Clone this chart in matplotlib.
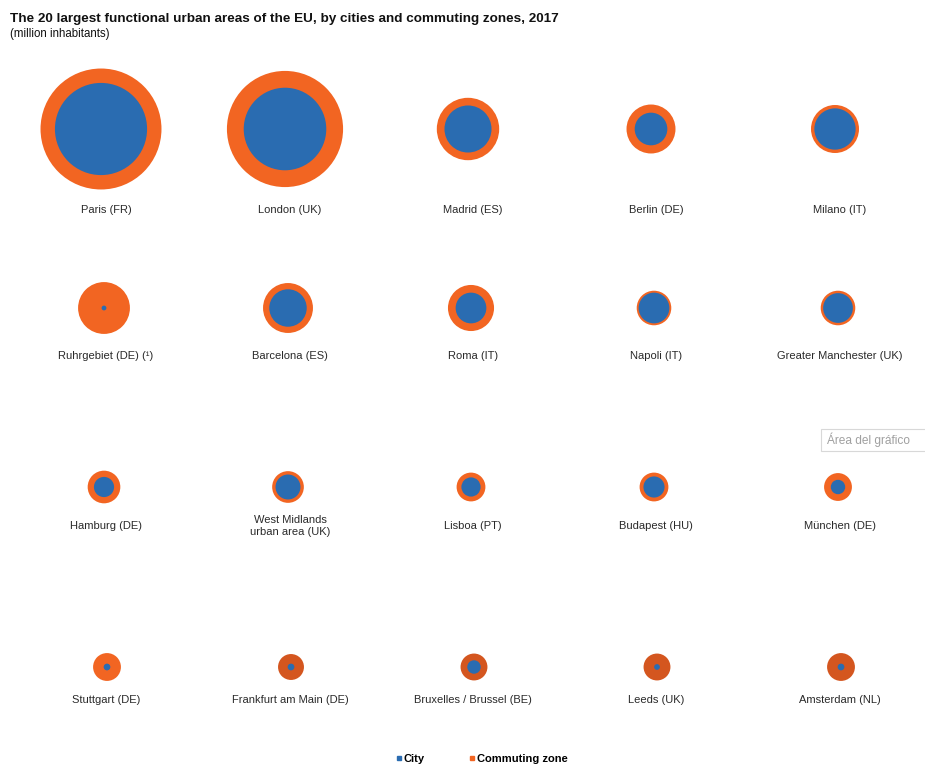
import matplotlib
matplotlib.use("Agg")
import matplotlib.pyplot as plt
from matplotlib.patches import Circle, Rectangle
from matplotlib.lines import Line2D

plt.rcParams['font.family'] = ['Liberation Sans', 'DejaVu Sans']

# million inhabitants, bubbles sized by width (radius ~ value)
areas = [
    'Paris (FR)', 'London (UK)', 'Madrid (ES)', 'Berlin (DE)', 'Milano (IT)',
    'Ruhrgebiet (DE) (¹)', 'Barcelona (ES)', 'Roma (IT)', 'Napoli (IT)', 'Greater Manchester (UK)',
    'Hamburg (DE)', 'West Midlands\nurban area (UK)', 'Lisboa (PT)', 'Budapest (HU)', 'München (DE)',
    'Stuttgart (DE)', 'Frankfurt am Main (DE)', 'Bruxelles / Brussel (BE)', 'Leeds (UK)', 'Amsterdam (NL)',
]
commuting_zone = [12.6, 12.1, 6.5, 5.1, 5.0,
                  5.4, 5.2, 4.8, 3.6, 3.6,
                  3.4, 3.3, 3.0, 3.0, 2.9,
                  2.9, 2.7, 2.8, 2.8, 2.9]
city = [9.6, 8.6, 4.9, 3.4, 4.3,
        0.5, 3.9, 3.2, 3.2, 3.1,
        2.1, 2.6, 2.0, 2.2, 1.5,
        0.7, 0.7, 1.4, 0.6, 0.7]

BLUE = '#2a6cb1'
ORANGE = '#f26522'
ORANGE_DARK = '#d4561f'
dark_zone = {'Frankfurt am Main (DE)', 'Bruxelles / Brussel (BE)', 'Leeds (UK)', 'Amsterdam (NL)'}

# layout in pixels
W, H = 925, 765
col_x = [104, 288, 471, 654, 838]
row_y = [129, 308, 487, 667]
row_shift = [-3, 0, 0, 3]
label_y = [210, 356, 526, 700]
px_per_million = 4.8

fig = plt.figure(figsize=(W / 100, H / 100), dpi=100)
ax = fig.add_axes([0, 0, 1, 1])
ax.set_xlim(0, W)
ax.set_ylim(H, 0)
ax.axis('off')

for i, name in enumerate(areas):
    r, c = divmod(i, 5)
    x = col_x[c] + row_shift[r]
    y = row_y[r]
    zone_col = ORANGE_DARK if name in dark_zone else ORANGE
    ax.add_patch(Circle((x, y), commuting_zone[i] * px_per_million, color=zone_col, lw=0))
    ax.add_patch(Circle((x, y), city[i] * px_per_million, color=BLUE, lw=0))
    ax.text(col_x[c] + 2, label_y[r], name, ha='center', va='center',
            fontsize=8, color='#2a2a2a', linespacing=1.15)

ax.text(10, 19, 'The 20 largest functional urban areas of the EU, by cities and commuting zones, 2017',
        fontsize=9.7, fontweight='bold', color='#111111', va='center')
ax.text(10, 34, '(million inhabitants)', fontsize=8.3, color='#111111', va='center')

# chart-area hint box running off the right edge
ax.add_patch(Rectangle((821, 429), 120, 22, fc='white', ec='#d8d8d8', lw=0.8, clip_on=True))
ax.text(827, 440, 'Área del gráfico', fontsize=8.6, color='#a0a0a0', va='center')

handles = [Line2D([], [], marker='s', ls='', color=BLUE, markersize=3.5, label='City'),
           Line2D([], [], marker='s', ls='', color=ORANGE, markersize=3.5, label='Commuting zone')]
ax.legend(handles=handles, loc='center left', bbox_to_anchor=(389 / W, 1 - 759 / H),
          ncol=2, frameon=False, handletextpad=0.05, columnspacing=3.8,
          handlelength=0.8, borderpad=0, prop={'size': 8, 'weight': 'bold'})

fig.savefig('out.png', dpi=100)
